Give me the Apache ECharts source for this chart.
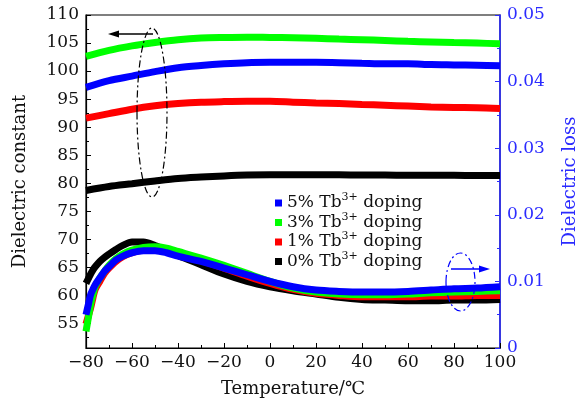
<!DOCTYPE html>
<html>
<head>
<meta charset="utf-8"/>
<title>Dielectric</title>
<script src="https://cdn.jsdelivr.net/npm/echarts@6/dist/echarts.min.js"></script>
<style>
  html, body { margin: 0; padding: 0; background: #fff; }
</style>
</head>
<body>
<div id="chart" style="width: 587px;height: 403px;"></div>
<script>
// doping levels (legend order)
var dopings = ['5%', '3%', '1%', '0%'];
var colors = { '5%': '#0000ff', '3%': '#00ff00', '1%': '#ff0000', '0%': '#000000' };

// dielectric constant (left axis)
var temps = [-80, -70, -60, -50, -40, -30, -20, -10, 0, 10, 20, 30, 40, 50, 60, 70, 80, 90, 100];
var constBlue  = [97.1, 98.3, 99.1, 99.9, 100.6, 101.0, 101.3, 101.5, 101.55, 101.55, 101.55, 101.5, 101.4, 101.3, 101.3, 101.15, 101.1, 101.05, 100.95];
var constGreen = [102.6, 103.7, 104.5, 105.1, 105.6, 105.9, 106.0, 106.05, 106.0, 105.95, 105.85, 105.7, 105.6, 105.45, 105.3, 105.2, 105.1, 105.0, 104.85];
var constRed   = [91.6, 92.4, 93.2, 93.8, 94.2, 94.45, 94.55, 94.6, 94.6, 94.45, 94.3, 94.2, 94.05, 93.9, 93.75, 93.6, 93.5, 93.45, 93.3];
var constBlack = [78.7, 79.4, 79.9, 80.4, 80.85, 81.1, 81.3, 81.45, 81.5, 81.5, 81.5, 81.5, 81.45, 81.45, 81.4, 81.4, 81.4, 81.35, 81.35];

// dielectric loss (right axis)
var lossTemps = [-80, -79, -78, -77, -76, -74, -72, -70, -67, -64, -60, -55, -50, -45, -40, -30, -20, -10, 0, 10, 20, 30, 40, 50, 60, 70, 80, 90, 100];
var lossBlue  = [0.0050, 0.0065, 0.0080, 0.0088, 0.0095, 0.0105, 0.0115, 0.0122, 0.0132, 0.0138, 0.0143, 0.0146, 0.0146, 0.0143, 0.0138, 0.0130, 0.0120, 0.0110, 0.0100, 0.0092, 0.0087, 0.0085, 0.0084, 0.0084, 0.0085, 0.0087, 0.0089, 0.0090, 0.0092];
var lossGreen = [0.0025, 0.0045, 0.0065, 0.0080, 0.0092, 0.0105, 0.0115, 0.0124, 0.0134, 0.0141, 0.0147, 0.0151, 0.0152, 0.0150, 0.0145, 0.0135, 0.0124, 0.0112, 0.0100, 0.0090, 0.0084, 0.0081, 0.0080, 0.0080, 0.0081, 0.0083, 0.0084, 0.0085, 0.0086];
var lossRed   = [0.0036, 0.0048, 0.0060, 0.0075, 0.0088, 0.0100, 0.0112, 0.0120, 0.0130, 0.0137, 0.0143, 0.0147, 0.0148, 0.0146, 0.0141, 0.0131, 0.0120, 0.0108, 0.0097, 0.0088, 0.0082, 0.0079, 0.0077, 0.0077, 0.0077, 0.0078, 0.0078, 0.0079, 0.0079];
var lossBlack = [0.0097, 0.0104, 0.0111, 0.0117, 0.0122, 0.0130, 0.0136, 0.0141, 0.0148, 0.0154, 0.0159, 0.0159, 0.0154, 0.0147, 0.0139, 0.0125, 0.0111, 0.0100, 0.0092, 0.0086, 0.0081, 0.0076, 0.0073, 0.0072, 0.0071, 0.0071, 0.0072, 0.0072, 0.0073];

var leftMajor = [55, 60, 65, 70, 75, 80, 85, 90, 95, 100, 105, 110];
var leftMinor = [52.5, 57.5, 62.5, 67.5, 72.5, 77.5, 82.5, 87.5, 92.5, 97.5, 102.5, 107.5];

var FONT = 'DejaVu Serif';
var BLUE = '#2b2bff';

function pairs(xs, ys) {
  var out = [];
  for (var i = 0; i < xs.length; i++) out.push([xs[i], ys[i]]);
  return out;
}

function curve(name, data, axis) {
  return {
    name: name,
    type: 'line',
    yAxisIndex: axis,
    data: data,
    smooth: 0.3,
    showSymbol: false,
    symbol: 'none',
    itemStyle: { color: colors[name] },
    lineStyle: { color: colors[name], width: 7 },
    silent: true,
    animation: false
  };
}

var myChart = echarts.init(document.getElementById('chart'));

myChart.setOption({
  animation: false,
  grid: { left: 86, right: 85, top: 15, bottom: 55, show: true, borderColor: '#000', borderWidth: 1.2 },
  legend: {
    data: dopings,
    orient: 'vertical',
    left: 270,
    top: 187,
    itemWidth: 7,
    itemHeight: 7,
    itemGap: 0,
    icon: 'rect',
    formatter: function (name) {
      return '{t|' + name + ' Tb}{s|3+}{t| doping}';
    },
    textStyle: {
      color: '#111',
      rich: {
        t: { fontFamily: FONT, fontSize: 17, color: '#111', lineHeight: 22 },
        s: { fontFamily: FONT, fontSize: 11, color: '#111', verticalAlign: 'top', lineHeight: 22, padding: [0, 0, 7, 0] }
      }
    }
  },
  xAxis: {
    type: 'value',
    min: -80,
    max: 100,
    interval: 20,
    name: 'Temperature/℃',
    nameLocation: 'middle',
    nameGap: 32,
    nameTextStyle: { fontFamily: FONT, fontSize: 18, color: '#111' },
    axisLine: { onZero: false, lineStyle: { color: '#000', width: 1.2 } },
    axisTick: { inside: true, length: 5, lineStyle: { color: '#000' } },
    minorTick: { show: true, splitNumber: 2, length: 3, lineStyle: { color: '#000' } },
    splitLine: { show: false },
    axisLabel: {
      margin: 6,
      fontFamily: FONT, fontSize: 17, color: '#111',
      formatter: function (v) { return v < 0 ? '\u2212' + Math.abs(v) : String(v); }
    }
  },
  yAxis: [
    {
      type: 'value',
      position: 'left',
      min: 50.6,
      max: 110,
      name: 'Dielectric constant',
      nameLocation: 'middle',
      nameGap: 57,
      nameTextStyle: { fontFamily: FONT, fontSize: 18, color: '#111' },
      axisLine: { show: true, onZero: false, lineStyle: { color: '#000', width: 1.2 } },
      axisTick: { show: true, inside: true, length: 5, customValues: leftMajor, lineStyle: { color: '#000' } },
      axisLabel: { customValues: leftMajor, margin: 7, fontFamily: FONT, fontSize: 17, color: '#111' },
      splitLine: { show: false }
    },
    {
      type: 'value',
      position: 'left',
      min: 50.6,
      max: 110,
      axisLine: { show: false, onZero: false },
      axisTick: { show: true, inside: true, length: 3, customValues: leftMinor, lineStyle: { color: '#000' } },
      axisLabel: { show: false },
      splitLine: { show: false }
    },
    {
      type: 'value',
      position: 'right',
      min: 0,
      max: 0.05,
      interval: 0.01,
      name: 'Dielectric loss',
      nameLocation: 'middle',
      nameGap: 61,
      nameTextStyle: { fontFamily: FONT, fontSize: 18, color: BLUE },
      axisLine: { show: true, onZero: false, lineStyle: { color: BLUE, width: 1.6 } },
      axisTick: { inside: true, length: 5, lineStyle: { color: BLUE } },
      minorTick: { show: true, splitNumber: 2, length: 3, lineStyle: { color: BLUE } },
      axisLabel: { margin: 7, fontFamily: FONT, fontSize: 17, color: BLUE },
      splitLine: { show: false }
    }
  ],
  series: [
    curve('5%', pairs(temps, constBlue), 0),
    curve('3%', pairs(temps, constGreen), 0),
    curve('1%', pairs(temps, constRed), 0),
    curve('0%', pairs(temps, constBlack), 0),
    curve('0%', pairs(lossTemps, lossBlack), 2),
    curve('1%', pairs(lossTemps, lossRed), 2),
    curve('3%', pairs(lossTemps, lossGreen), 2),
    curve('5%', pairs(lossTemps, lossBlue), 2)
  ],
  graphic: [
    // left annotation: ellipse + arrow pointing to left axis
    { type: 'ellipse', shape: { cx: 152, cy: 112.5, rx: 15, ry: 84.5 }, style: { fill: 'none', stroke: '#000', lineWidth: 1.2, lineDash: [7, 3, 2, 3] }, z: 100 },
    { type: 'line', shape: { x1: 153, y1: 34, x2: 114, y2: 34 }, style: { stroke: '#000', lineWidth: 1.3 }, z: 100 },
    { type: 'polygon', shape: { points: [[108, 34], [119, 30.5], [119, 37.5]] }, style: { fill: '#000' }, z: 100 },
    // right annotation: ellipse + arrow pointing to right axis
    { type: 'ellipse', shape: { cx: 460.5, cy: 282, rx: 14.5, ry: 29 }, style: { fill: 'none', stroke: '#0000ff', lineWidth: 1.2, lineDash: [7, 3, 2, 3] }, z: 100 },
    { type: 'line', shape: { x1: 451, y1: 269, x2: 484, y2: 269 }, style: { stroke: '#0000ff', lineWidth: 1.3 }, z: 100 },
    { type: 'polygon', shape: { points: [[490, 269], [479, 265.5], [479, 272.5]] }, style: { fill: '#0000ff' }, z: 100 }
  ]
});
</script>
</body>
</html>
